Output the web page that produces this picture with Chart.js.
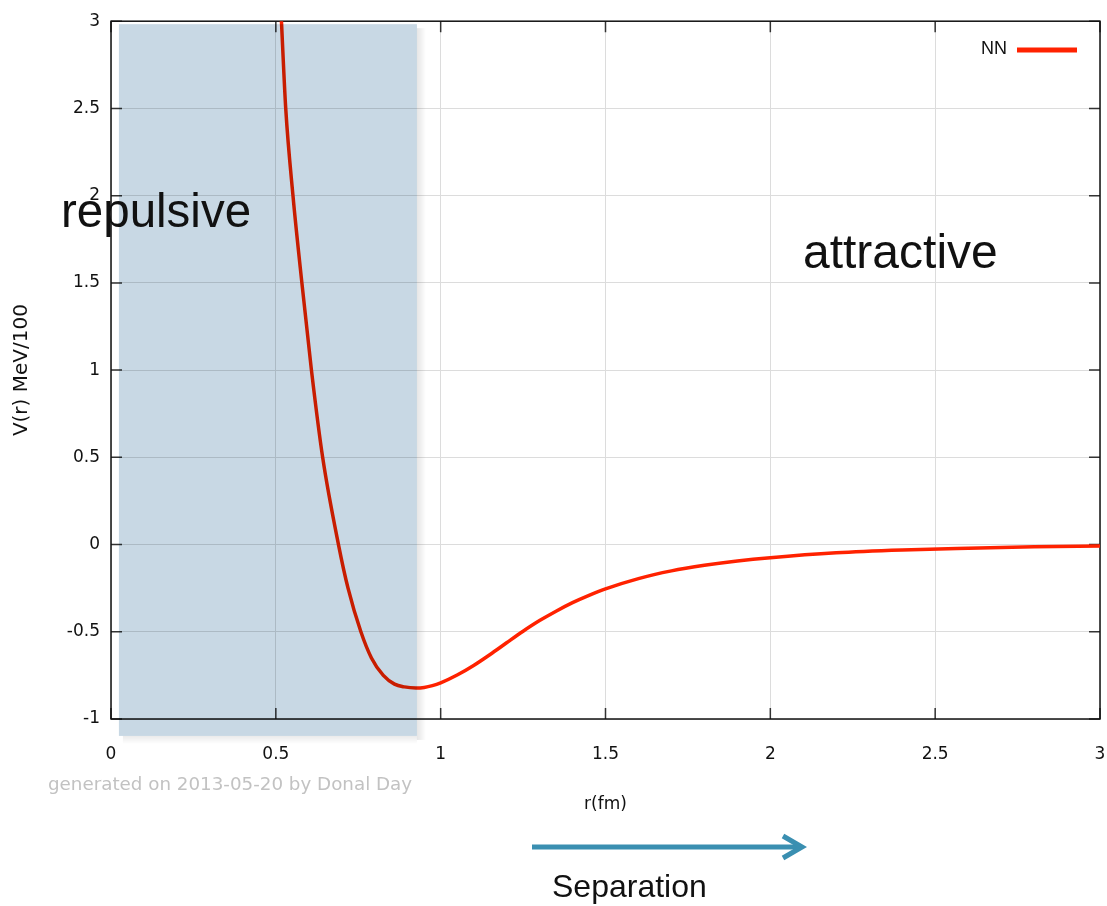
<!DOCTYPE html>
<html>
<head>
<meta charset="utf-8">
<script src="https://cdn.jsdelivr.net/npm/chart.js@4/dist/chart.umd.min.js"></script>
<style>
  body { margin: 0; background: #fff; }
  #wrap { position: relative; width: 1107px; height: 906px; overflow: hidden; }
  #chart { position: absolute; left: 0; top: 0; }
  .note { position: absolute; white-space: nowrap; font-family: "Liberation Sans", Arial, sans-serif; color: #111; line-height: 1; }
  #arrow { position: absolute; left: 0; top: 0; }
</style>
</head>
<body>
<div id="wrap">
  <canvas id="chart" width="1107" height="906"></canvas>
  <div class="note" style="left:61px; top:187px; font-size:47.5px;">repulsive</div>
  <div class="note" style="left:803px; top:228px; font-size:48px;">attractive</div>
  <div class="note" style="left:552px; top:870px; font-size:32px;">Separation</div>
  <div class="note" style="left:48px; top:775px; font-size:18.3px; color:#c2c2c2; font-family:'DejaVu Sans', sans-serif;">generated on 2013-05-20 by Donal Day</div>
  <svg id="arrow" width="1107" height="906">
    <line x1="532" y1="847" x2="801" y2="847" stroke="#3a8fb1" stroke-width="5"/>
    <polyline points="783,836 802,847 783,858" fill="none" stroke="#3a8fb1" stroke-width="5"/>
  </svg>
</div>
<script>
// NN potential, r in fm, V in MeV/100
const rValues = [0.512, 0.517, 0.530, 0.552, 0.579, 0.608, 0.642, 0.690, 0.719, 0.758, 0.790, 0.826, 0.860, 0.890, 0.925,
                 0.950, 0.975, 1.00, 1.05, 1.10, 1.15, 1.20, 1.25, 1.30, 1.35, 1.40, 1.45, 1.50, 1.60, 1.70, 1.80, 1.90, 2.00,
                 2.20, 2.40, 2.60, 2.80, 3.00]
const vValues = [3.2, 3.0, 2.5, 2.0, 1.5, 1.0, 0.5, 0.0, -0.25, -0.5, -0.65, -0.75, -0.80, -0.816, -0.822,
                 -0.819, -0.809, -0.793, -0.748, -0.693, -0.63, -0.563, -0.497, -0.436, -0.382, -0.333, -0.291, -0.254,
                 -0.195, -0.151, -0.119, -0.094, -0.075, -0.047, -0.031, -0.021, -0.013, -0.008]
const xTicks = [0, 0.5, 1, 1.5, 2, 2.5, 3]
const yTicks = [-1, -0.5, 0, 0.5, 1, 1.5, 2, 2.5, 3]
const shadeR = [0.024, 0.928]
const shadeV = [-1.097, 2.983]

const lineColor = '#ff2200'

const framePlugin = {
    id: 'frame',
    beforeDatasetsDraw(chart) {
        const {ctx, chartArea: a, scales: {x, y}} = chart
        ctx.save()
        ctx.strokeStyle = '#333'
        ctx.lineWidth = 1.5
        ctx.beginPath()
        xTicks.forEach(v => {
            const px = x.getPixelForValue(v)
            ctx.moveTo(px, a.bottom); ctx.lineTo(px, a.bottom - 11)
            ctx.moveTo(px, a.top); ctx.lineTo(px, a.top + 11)
        })
        yTicks.forEach(v => {
            const py = y.getPixelForValue(v)
            ctx.moveTo(a.left, py); ctx.lineTo(a.left + 11, py)
            ctx.moveTo(a.right, py); ctx.lineTo(a.right - 11, py)
        })
        ctx.stroke()
        ctx.strokeStyle = '#111'
        ctx.strokeRect(a.left, a.top, a.width, a.height)
        ctx.restore()
    },
    afterDatasetsDraw(chart) {
        const {ctx, scales: {x, y}} = chart
        // shaded repulsive core, laid over the plot like a tinted sheet
        const x0 = x.getPixelForValue(shadeR[0]), x1 = x.getPixelForValue(shadeR[1])
        const y0 = y.getPixelForValue(shadeV[1]), y1 = y.getPixelForValue(shadeV[0])
        ctx.save()
        ctx.globalCompositeOperation = 'multiply'
        ctx.fillStyle = '#c8d8e4'
        ctx.fillRect(x0, y0, x1 - x0, y1 - y0)
        ctx.restore()

        // soft drop shadow on right and bottom edges
        ctx.save()
        let g = ctx.createLinearGradient(x1, 0, x1 + 9, 0)
        g.addColorStop(0, 'rgba(0,0,0,0.10)')
        g.addColorStop(1, 'rgba(0,0,0,0)')
        ctx.fillStyle = g
        ctx.fillRect(x1, y0 + 4, 9, y1 - y0)
        g = ctx.createLinearGradient(0, y1, 0, y1 + 8)
        g.addColorStop(0, 'rgba(0,0,0,0.08)')
        g.addColorStop(1, 'rgba(0,0,0,0)')
        ctx.fillStyle = g
        ctx.fillRect(x0 + 4, y1, x1 - x0 - 4, 8)
        ctx.restore()

        // legend, text left of sample line
        const ds = chart.data.datasets[0]
        ctx.save()
        ctx.font = '18px "Liberation Sans", Arial, sans-serif'
        ctx.fillStyle = '#111'
        ctx.textAlign = 'right'
        ctx.textBaseline = 'middle'
        ctx.fillText(ds.label, 1007, 49)
        ctx.strokeStyle = ds.borderColor
        ctx.lineWidth = 5
        ctx.beginPath()
        ctx.moveTo(1017, 50); ctx.lineTo(1077, 50)
        ctx.stroke()
        ctx.restore()
    }
}

const tickFont = { family: '"DejaVu Sans", sans-serif', size: 17 }

new Chart(document.getElementById('chart'), {
    type: 'scatter',
    data: {
        datasets: [{
            label: 'NN',
            data: rValues.map((r, i) => ({x: r, y: vValues[i]})),
            showLine: true,
            borderColor: lineColor,
            borderWidth: 3.5,
            pointRadius: 0,
            cubicInterpolationMode: 'monotone'
        }]
    },
    options: {
        responsive: false,
        animation: false,
        layout: { padding: { top: 21, right: 7, left: 0, bottom: 0 } },
        plugins: {
            legend: { display: false },
            tooltip: { enabled: false }
        },
        scales: {
            x: {
                type: 'linear',
                min: 0, max: 3,
                afterBuildTicks: s => { s.ticks = xTicks.map(v => ({value: v})) },
                afterFit: s => { s.height = 187 },
                // invisible tick marks push the labels down without widening the side padding
                grid: { color: '#dcdcdc', drawTicks: true, tickLength: 25, tickColor: 'rgba(0,0,0,0)' },
                border: { display: false },
                ticks: { color: '#111', font: tickFont, padding: 0, maxRotation: 0, callback: v => String(v) },
                title: { display: true, text: 'r(fm)', color: '#111', font: tickFont, padding: { top: 0, bottom: 91 } }
            },
            y: {
                type: 'linear',
                min: -1, max: 3,
                afterBuildTicks: s => { s.ticks = yTicks.map(v => ({value: v})) },
                afterFit: s => { s.width = 111 },
                grid: { color: '#dcdcdc', drawTicks: false },
                border: { display: false },
                ticks: { color: '#111', font: tickFont, padding: 11, callback: v => String(v) },
                title: { display: true, text: 'V(r) MeV/100', color: '#111', font: { family: '"DejaVu Sans", sans-serif', size: 20 }, padding: { top: 10, bottom: 0 } }
            }
        }
    },
    plugins: [framePlugin]
})
</script>
</body>
</html>
